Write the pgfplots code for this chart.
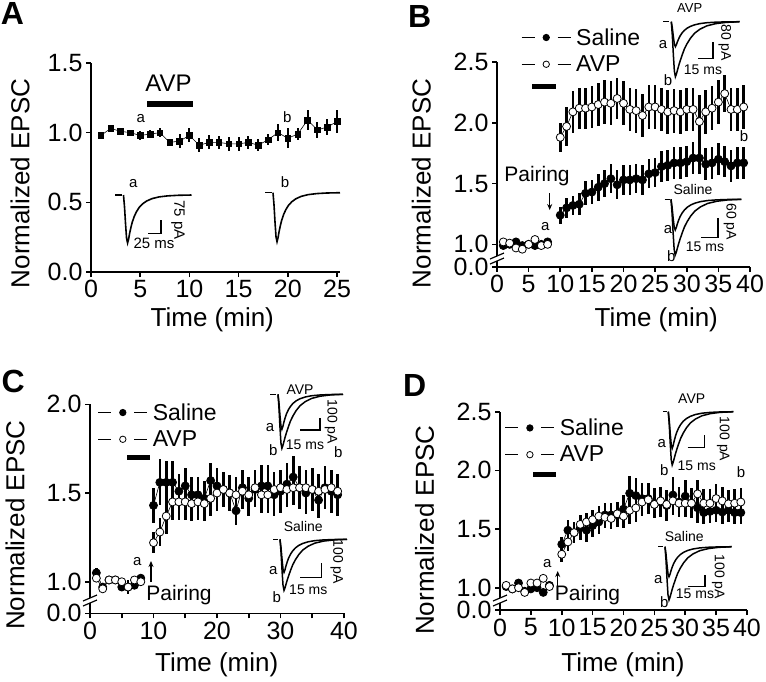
\documentclass[border=0pt]{standalone}
\usepackage{pgfplots}
\usepackage{pgfplotstable}
\pgfplotsset{compat=1.18}
\usepackage{fontspec}
\setmainfont{Liberation Sans}
\usetikzlibrary{arrows.meta}

\newcommand{\fs}[1]{\fontsize{#1}{#1}\selectfont}

% normalised EPSC trace shapes: x = fraction of trace width, f = fast (a), s = slow (b)
\pgfplotstableread{
x f s
0 0 0
0.015 0.25 0.25
0.03 0.6 0.6
0.045 0.9 0.9
0.06 1.0 1.0
0.075 0.92 0.95
0.09 0.80 0.88
0.11 0.67 0.79
0.13 0.56 0.71
0.16 0.44 0.60
0.19 0.35 0.50
0.23 0.26 0.40
0.28 0.185 0.30
0.34 0.125 0.21
0.42 0.075 0.135
0.52 0.04 0.075
0.65 0.018 0.035
0.8 0.006 0.012
1.0 0 0
}\shape

\pgfplotstableread{
t y e
1 0.98 0.01
2 1.03 0.01
3 1.01 0.015
4 1.00 0.02
5 0.98 0.03
6 0.99 0.03
7 1.00 0.03
8 0.93 0.015
9 0.94 0.05
10 0.98 0.05
11 0.91 0.05
12 0.93 0.05
13 0.93 0.045
14 0.92 0.05
15 0.92 0.05
16 0.93 0.045
17 0.91 0.045
18 0.95 0.04
19 1.00 0.06
20 0.96 0.07
21 0.99 0.04
22 1.09 0.07
23 1.02 0.06
24 1.04 0.06
25 1.08 0.085
}\dataA

\pgfplotstableread{
t s se a ae
1 0.99 0.02 1.02 0.02
2 1.00 0.02 1.01 0.02
3 1.02 0.02 0.97 0.02
4 0.99 0.02 0.96 0.02
5 1.00 0.02 1.00 0.02
6 0.99 0.02 1.04 0.03
7 1.00 0.02 0.99 0.02
8 1.02 0.02 1.00 0.02
9 nan nan nan nan
10 1.24 0.07 1.88 0.12
11 1.30 0.08 1.97 0.16
12 1.32 0.08 2.09 0.17
13 1.33 0.09 2.12 0.17
14 1.42 0.10 2.12 0.17
15 1.43 0.10 2.13 0.17
16 1.47 0.11 2.15 0.18
17 1.50 0.11 2.17 0.18
18 1.54 0.12 2.16 0.18
19 1.49 0.12 2.20 0.17
20 1.53 0.12 2.16 0.18
21 1.53 0.12 2.11 0.18
22 1.54 0.12 2.10 0.18
23 1.53 0.12 2.06 0.18
24 1.58 0.12 2.13 0.18
25 1.59 0.12 2.13 0.18
26 1.64 0.13 2.11 0.18
27 1.65 0.13 2.09 0.18
28 1.67 0.13 2.10 0.18
29 1.67 0.13 2.09 0.18
30 1.68 0.13 2.11 0.18
31 1.71 0.13 2.11 0.18
32 1.71 0.13 2.01 0.22
33 1.66 0.13 2.09 0.18
34 1.67 0.13 2.12 0.18
35 1.70 0.13 2.17 0.18
36 1.68 0.13 2.24 0.15
37 1.645 0.13 2.11 0.18
38 1.67 0.13 2.11 0.18
39 1.67 0.13 2.13 0.18
}\dataB

\pgfplotstableread{
t s se a ae
1 1.05 0.03 1.02 0.02
2 0.97 0.02 0.96 0.02
3 1.01 0.02 1.01 0.02
4 1.01 0.02 1.01 0.02
5 0.97 0.02 1.00 0.02
6 0.97 0.03 0.97 0.04
7 0.98 0.02 1.01 0.02
8 1.02 0.02 1.00 0.02
9 nan nan nan nan
10 1.43 0.10 1.22 0.06
11 1.56 0.13 1.28 0.08
12 1.56 0.12 1.37 0.10
13 1.56 0.12 1.45 0.10
14 1.51 0.10 1.45 0.10
15 1.54 0.10 1.45 0.10
16 1.49 0.10 1.44 0.10
17 1.49 0.10 1.45 0.10
18 1.47 0.10 1.44 0.10
19 1.57 0.10 1.47 0.10
20 1.54 0.10 1.50 0.10
21 1.52 0.10 1.52 0.10
22 1.50 0.10 1.50 0.10
23 1.40 0.08 1.49 0.10
24 1.53 0.10 1.51 0.10
25 1.47 0.10 1.49 0.10
26 1.52 0.10 1.53 0.10
27 1.54 0.12 1.49 0.10
28 1.54 0.12 1.49 0.10
29 1.49 0.12 1.52 0.10
30 1.51 0.12 1.53 0.10
31 1.55 0.12 1.52 0.10
32 1.59 0.12 1.53 0.10
33 1.53 0.12 1.53 0.10
34 1.50 0.12 1.53 0.10
35 1.52 0.12 1.52 0.10
36 1.46 0.10 1.51 0.10
37 1.53 0.12 1.52 0.10
38 1.51 0.12 1.53 0.10
39 1.49 0.12 1.51 0.10
}\dataC

\pgfplotstableread{
t s se a ae
1 1.01 0.02 1.02 0.02
2 0.99 0.02 0.99 0.02
3 1.04 0.02 1.00 0.02
4 0.97 0.02 0.96 0.02
5 0.99 0.02 1.04 0.02
6 1.00 0.02 1.04 0.02
7 0.96 0.02 1.08 0.02
8 1.02 0.02 1.01 0.02
9 nan nan nan nan
10 1.37 0.06 1.285 0.07
11 1.49 0.09 1.39 0.08
12 1.47 0.09 1.47 0.08
13 1.51 0.10 1.54 0.08
14 1.49 0.10 1.56 0.08
15 1.53 0.10 1.58 0.08
16 1.56 0.10 1.61 0.09
17 1.62 0.10 1.60 0.09
18 1.62 0.10 1.59 0.09
19 1.62 0.10 1.63 0.10
20 1.67 0.12 1.61 0.10
21 1.805 0.15 1.66 0.12
22 1.785 0.15 1.68 0.12
23 1.76 0.13 1.73 0.12
24 1.76 0.13 1.75 0.12
25 1.72 0.13 1.71 0.12
26 1.73 0.13 1.74 0.12
27 1.70 0.13 1.71 0.12
28 1.79 0.15 1.74 0.12
29 1.73 0.13 1.72 0.12
30 1.78 0.14 1.72 0.12
31 1.72 0.13 1.72 0.12
32 1.68 0.13 1.80 0.12
33 1.64 0.10 1.72 0.12
34 1.65 0.10 1.72 0.12
35 1.66 0.10 1.76 0.12
36 1.645 0.10 1.74 0.12
37 1.66 0.10 1.715 0.12
38 1.64 0.10 1.72 0.12
39 1.64 0.10 1.73 0.12
}\dataD

\pgfplotsset{
  panel/.style={scale only axis, axis lines=left, axis line style={-, line width=1.6pt},
    tick align=outside, major tick length=5pt, tick style={line width=1.6pt, black},
    tick label style={font=\fs{25}}, clip=false, unbounded coords=jump,
    legend cell align=left,
    legend style={draw=none, fill=none, font=\fs{23}, inner sep=0pt, row sep=9pt,
      nodes={inner sep=0pt, font=\fs{23}}},
    legend image code/.code={
      \draw[black, line width=1pt] (0pt,0pt) -- (13pt,0pt);
      \draw[black, line width=1pt] (36pt,0pt) -- (49pt,0pt);
      \draw[##1, mark size=3.2pt] plot coordinates {(24.5pt,0pt)};
    }},
  sal/.style={black, line width=0.6pt, mark=*, mark size=4pt,
    mark options={solid, fill=black, line width=0.8pt},
    error bars/.cd, y dir=both, y explicit, error mark=none,
    error bar style={line width=2.6pt, black}},
  avp/.style={black, line width=0.6pt, mark=*, mark size=4pt,
    mark options={solid, fill=white, draw=black, line width=0.8pt},
    error bars/.cd, y dir=both, y explicit, error mark=none,
    error bar style={line width=2.6pt, black}},
}

\begin{document}
\begin{tikzpicture}
\useasboundingbox (0pt,0pt) rectangle (766pt,-681pt);

% ---------------- A ----------------
\begin{axis}[panel, at={(91pt,-272pt)}, anchor=south west, width=249pt, height=209pt,
  xmin=0, xmax=25.3, ymin=0, ymax=1.5,
  xtick={0,5,...,25}, xticklabels={0,5,10,15,20,25},
  ytick={0,0.5,1,1.5}, yticklabels={0.0,0.5,1.0,1.5}]
\addplot[black, line width=0.6pt, mark=square*, mark size=2.8pt,
  error bars/.cd, y dir=both, y explicit, error mark=none,
  error bar style={line width=2pt, black}] table[x=t, y=y, y error=e] {\dataA};
\end{axis}

% ---------------- B ----------------
\begin{axis}[panel, at={(497pt,-266.7pt)}, anchor=south west, width=253pt, height=204.7pt,
  xmin=0, xmax=40, ymin=0.816, ymax=2.5,
  xtick={0,5,...,40}, xticklabels={0,5,10,15,20,25,30,35,40},
  ytick={0.816,1,1.5,2,2.5}, yticklabels={0.0,1.0,1.5,2.0,2.5},
  legend style={at={(axis description cs:0.095,1.165)}, anchor=north west}]
\addplot[sal] table[x=t, y=s, y error=se] {\dataB};
\addlegendentry{\fs{23}\hspace{5pt}Saline}
\addplot[avp] table[x=t, y=a, y error=ae] {\dataB};
\addlegendentry{\fs{23}\hspace{5pt}AVP}
\end{axis}

% ---------------- C ----------------
\begin{axis}[panel, at={(90pt,-613.3pt)}, anchor=south west, width=254pt, height=209pt,
  xmin=0, xmax=40, ymin=0.822, ymax=2.0,
  xtick={0,5,...,40}, xticklabels={0,,10,,20,,30,,40},
  ytick={0.822,1,1.5,2}, yticklabels={0.0,1.0,1.5,2.0},
  legend style={at={(axis description cs:0.03,1.005)}, anchor=north west}]
\addplot[sal] table[x=t, y=s, y error=se] {\dataC};
\addlegendentry{\fs{23}\hspace{5pt}Saline}
\addplot[avp] table[x=t, y=a, y error=ae] {\dataC};
\addlegendentry{\fs{23}\hspace{5pt}AVP}
\end{axis}

% ---------------- D ----------------
\begin{axis}[panel, at={(500pt,-610pt)}, anchor=south west, width=247pt, height=198.3pt,
  xmin=0, xmax=40, ymin=0.81, ymax=2.5,
  xtick={0,5,...,40}, xticklabels={0,5,10,15,20,25,30,35,40},
  ytick={0.81,1,1.5,2,2.5}, yticklabels={0.0,1.0,1.5,2.0,2.5},
  legend style={at={(axis description cs:0.019,0.965)}, anchor=north west}]
\addplot[sal] table[x=t, y=s, y error=se] {\dataD};
\addlegendentry{\fs{23}\hspace{5pt}Saline}
\addplot[avp] table[x=t, y=a, y error=ae] {\dataD};
\addlegendentry{\fs{23}\hspace{5pt}AVP}
\end{axis}

% ---------------- overlay in pixel coordinates ----------------
\begin{axis}[at={(0pt,0pt)}, anchor=north west, scale only axis, width=766pt, height=681pt,
  xmin=0, xmax=766, ymin=0, ymax=681, y dir=reverse, hide axis, clip=false]
% panel letters
\node[font=\fs{32}\bfseries] at (12.5,13.3) {A};
\node[font=\fs{32}\bfseries] at (419.7,16.7) {B};
\node[font=\fs{32}\bfseries] at (13.3,381.7) {C};
\node[font=\fs{32}\bfseries] at (414.7,385) {D};
% axis labels
\node[font=\fs{26}, rotate=90] at (20,183.3) {Normalized EPSC};
\node[font=\fs{26}] at (212.3,320) {Time (min)};
\node[font=\fs{26}, rotate=90] at (421.3,183.3) {Normalized EPSC};
\node[font=\fs{26}] at (656.3,320) {Time (min)};
\node[font=\fs{26}, rotate=90] at (15,525) {Normalized EPSC};
\node[font=\fs{26}] at (216.7,665) {Time (min)};
\node[font=\fs{26}, rotate=90] at (424.7,530) {Normalized EPSC};
\node[font=\fs{26}] at (623,665) {Time (min)};
% axis breaks
\fill[white] (490,259) -- (504,253) -- (504,258) -- (490,264) -- cycle;
\draw[line width=1.2pt] (490,259) -- (504,253);
\draw[line width=1.2pt] (490,264) -- (504,258);
\fill[white] (83,601) -- (97,595) -- (97,600) -- (83,606) -- cycle;
\draw[line width=1.2pt] (83,601) -- (97,595);
\draw[line width=1.2pt] (83,606) -- (97,600);
\fill[white] (493,601) -- (507,595) -- (507,600) -- (493,606) -- cycle;
\draw[line width=1.2pt] (493,601) -- (507,595);
\draw[line width=1.2pt] (493,606) -- (507,600);
% drug bars
\fill (146.7,101.3) rectangle (192.7,107.3);
\node[font=\fs{24}] at (168.5,83.3) {AVP};
\fill (532.3,83.5) rectangle (555.7,88.5);
\fill (126.7,455) rectangle (150,460);
\fill (533,471.5) rectangle (556.3,476.5);
% pairing
\node[font=\fs{21}] at (537,176) {Pairing};
\draw[-{Stealth[length=6pt,width=5pt]}, line width=1.2pt] (549.7,193) -- (549.7,210);
\node[font=\fs{21}] at (179,595) {Pairing};
\draw[-{Stealth[length=6pt,width=5pt]}, line width=1.2pt] (151,582) -- (151,561);
\node[font=\fs{21}] at (587.5,595) {Pairing};
\draw[-{Stealth[length=6pt,width=5pt]}, line width=1.2pt] (557.7,587) -- (557.7,571);
% time-point labels
\node[font=\fs{15}] at (140.7,118.3) {a};
\node[font=\fs{15}] at (287.3,116.7) {b};
\node[font=\fs{15}] at (545.3,226.7) {a};
\node[font=\fs{15}] at (744,136) {b};
\node[font=\fs{15}] at (137.3,561.7) {a};
\node[font=\fs{15}] at (338.3,451.7) {b};
\node[font=\fs{15}] at (547.3,563.3) {a};
\node[font=\fs{15}] at (741,472.3) {b};

% ---- traces A ----
\draw[line width=1.5pt] (115,195) -- (121.7,195);
\addplot[black, line width=1.6pt, no markers] table[x expr=123.5+68*\thisrow{x}, y expr=195+48*\thisrow{f}] {\shape};
\node[font=\fs{15}] at (133.3,183.3) {a};
\draw[line width=1.3pt] (148.3,233.3) -- (161,233.3) -- (161,220);
\node[font=\fs{15}, rotate=-90] at (178,220) {75 pA};
\node[font=\fs{15}] at (154,243.3) {25 ms};
\draw[line width=1.5pt] (265,192.7) -- (271.7,192.7);
\addplot[black, line width=1.6pt, no markers] table[x expr=273+67*\thisrow{x}, y expr=192.7+49*\thisrow{f}] {\shape};
\node[font=\fs{15}] at (285,181.7) {b};

% ---- traces B AVP ----
\node[font=\fs{13}] at (689.7,8.3) {AVP};
\draw[line width=1.5pt] (663,21.7) -- (669,21.7);
\addplot[black, line width=1.5pt, no markers] table[x expr=671.3+68.4*\thisrow{x}, y expr=21.7+25*\thisrow{f}] {\shape};
\addplot[black, line width=1.5pt, no markers] table[x expr=671.3+68.4*\thisrow{x}, y expr=21.7+55*\thisrow{s}] {\shape};
\node[font=\fs{15}] at (663,45) {a};
\node[font=\fs{15}] at (668,80) {b};
\draw[line width=1.3pt] (698,58.3) -- (713,58.3) -- (713,41.7);
\node[font=\fs{14}, rotate=-90] at (724.7,42.5) {80 pA};
\node[font=\fs{14}] at (703,70) {15 ms};
% ---- traces B Saline ----
\node[font=\fs{14}] at (693,189) {Saline};
\draw[line width=1.5pt] (664.7,199.3) -- (669.7,199.3);
\addplot[black, line width=1.5pt, no markers] table[x expr=671+70.3*\thisrow{x}, y expr=199.3+30.7*\thisrow{f}] {\shape};
\addplot[black, line width=1.5pt, no markers] table[x expr=671+70.3*\thisrow{x}, y expr=199.3+55.7*\thisrow{s}] {\shape};
\node[font=\fs{15}] at (668,230) {a};
\node[font=\fs{15}] at (671.3,255.7) {b};
\draw[line width=1.3pt] (701.3,237.3) -- (718,237.3) -- (718,218.3);
\node[font=\fs{14}, rotate=-90] at (730,221.7) {60 pA};
\node[font=\fs{14}] at (705,246.7) {15 ms};

% ---- traces C AVP ----
\node[font=\fs{14}] at (300,389.3) {AVP};
\draw[line width=1.5pt] (270,394.3) -- (276,394.3);
\addplot[black, line width=1.5pt, no markers] table[x expr=278+65*\thisrow{x}, y expr=394.3+35*\thisrow{f}] {\shape};
\addplot[black, line width=1.5pt, no markers] table[x expr=278+65*\thisrow{x}, y expr=394.3+54*\thisrow{s}] {\shape};
\node[font=\fs{15}] at (270,428) {a};
\node[font=\fs{15}] at (273.3,450) {b};
\draw[line width=1.3pt] (300,430) -- (320,430) -- (320,418.3);
\node[font=\fs{14}, rotate=-90] at (331,421.7) {100 pA};
\node[font=\fs{14}] at (305,444.3) {15 ms};
% ---- traces C Saline ----
\node[font=\fs{14}] at (303.3,526.7) {Saline};
\draw[line width=1.5pt] (273,539.3) -- (278,539.3);
\addplot[black, line width=1.5pt, no markers] table[x expr=280+67*\thisrow{x}, y expr=539.3+33*\thisrow{f}] {\shape};
\addplot[black, line width=1.5pt, no markers] table[x expr=280+67*\thisrow{x}, y expr=539.3+51*\thisrow{s}] {\shape};
\node[font=\fs{15}] at (273.3,571) {a};
\node[font=\fs{15}] at (276.7,596.7) {b};
\draw[line width=1.3pt] (300,577.7) -- (321.7,577.7) -- (321.7,563.3);
\node[font=\fs{14}, rotate=-90] at (336.7,561.7) {100 pA};
\node[font=\fs{14}] at (308.3,590) {15 ms};

% ---- traces D AVP ----
\node[font=\fs{14}] at (691.7,398.3) {AVP};
\draw[line width=1.5pt] (663.3,411.7) -- (666.7,411.7);
\addplot[black, line width=1.5pt, no markers] table[x expr=668.3+65*\thisrow{x}, y expr=411.7+36.6*\thisrow{f}] {\shape};
\addplot[black, line width=1.5pt, no markers] table[x expr=668.3+65*\thisrow{x}, y expr=411.7+53.3*\thisrow{s}] {\shape};
\node[font=\fs{15}] at (661.7,443.3) {a};
\node[font=\fs{15}] at (664.3,470) {b};
\draw[line width=1.3pt] (687.7,447.7) -- (704.3,447.7) -- (704.3,435);
\node[font=\fs{14}, rotate=-90] at (723.3,439) {100 pA};
\node[font=\fs{14}] at (696.7,465.7) {15 ms};
% ---- traces D Saline ----
\node[font=\fs{14}] at (684.3,536.7) {Saline};
\draw[line width=1.5pt] (658.3,546.7) -- (663.3,546.7);
\addplot[black, line width=1.5pt, no markers] table[x expr=665+66.7*\thisrow{x}, y expr=546.7+30*\thisrow{f}] {\shape};
\addplot[black, line width=1.5pt, no markers] table[x expr=665+66.7*\thisrow{x}, y expr=546.7+53.3*\thisrow{s}] {\shape};
\node[font=\fs{15}] at (658.3,580) {a};
\node[font=\fs{15}] at (664.3,601.7) {b};
\draw[line width=1.3pt] (688.3,586.7) -- (705,586.7) -- (705,575);
\node[font=\fs{14}, rotate=-90] at (718.3,576.7) {100 pA};
\node[font=\fs{14}] at (695,594) {15 ms};
\end{axis}
\end{tikzpicture}
\end{document}
